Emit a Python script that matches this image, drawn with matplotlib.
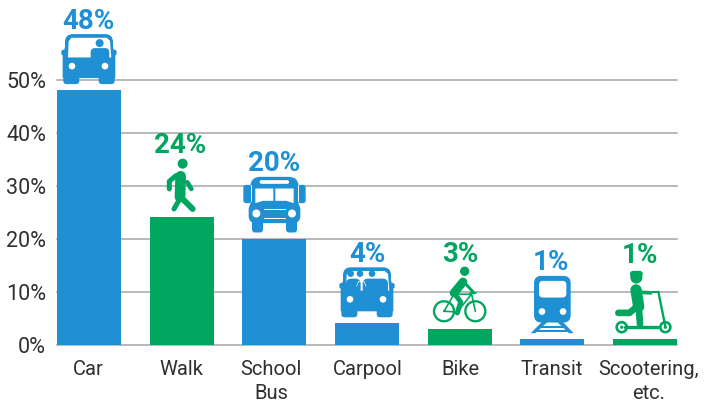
import matplotlib
matplotlib.use("Agg")
import matplotlib.pyplot as plt
from matplotlib.patches import Circle, FancyBboxPatch, Polygon
from matplotlib.lines import Line2D
from matplotlib.transforms import Affine2D

# ---- data
categories = ["Car", "Walk", "School\nBus", "Carpool", "Bike", "Transit", "Scootering,\netc."]
values = [48, 24, 20, 4, 3, 1, 1]
value_labels = ["48%", "24%", "20%", "4%", "3%", "1%", "1%"]
y_ticks = [0, 10, 20, 30, 40, 50]
y_tick_labels = ["0%", "10%", "20%", "30%", "40%", "50%"]

# ---- style
BLUE = "#1f90d3"
GREEN = "#00a65f"
WHITE = "white"
bar_colors = [BLUE, GREEN, BLUE, BLUE, GREEN, BLUE, GREEN]
label_dy = [62, 65, 68, 62, 68, 70, 77]
label_dx = [-1, -1.5, 0, 0, 1, -1, -5]
xlabel_dx = [-1, -0.5, -3.5, 1, 1, -0.5, 3.5]

plt.rcParams["font.family"] = ["Roboto", "DejaVu Sans"]
W, H = 720, 410
fig = plt.figure(figsize=(W / 100, H / 100), dpi=100)
L, R, T, B = 57, 677, 80.5, 345.5
ax = fig.add_axes([L / W, 1 - B / H, (R - L) / W, (B - T) / H])
ax.set_xlim(-0.345, 6.345)
ax.set_ylim(0, 50)
for s in ax.spines.values():
    s.set_visible(False)
ax.set_axisbelow(True)
ax.yaxis.grid(True, color="#a6a6a6", lw=1.1)
ax.xaxis.grid(False)
ax.tick_params(length=0)
ax.set_yticks(y_ticks)
ax.set_yticklabels(y_tick_labels, fontsize=15.5, color="#2f2f2f")
ax.tick_params(axis="y", pad=8)
ax.set_xticks([])
for line in ax.yaxis.get_gridlines():
    line.set_clip_on(False)

ax.bar(range(len(values)), values, width=0.69, color=bar_colors, zorder=2)


def icon_transform(i, ox, oy):
    X, Y = ax.transData.transform((i, values[i]))
    return (Affine2D().translate(-ox, -oy).scale(1 / 3, -1 / 3)
            .translate(X, Y + 6))


def px(pixels):
    return pixels * 72 / 100 / 3  # zoom-unit width to points


class Icon:
    def __init__(self, i, ox, oy, color):
        self.t = icon_transform(i, ox, oy)
        self.c = color

    def add(self, p, c=None):
        p.set_transform(self.t)
        p.set_facecolor(c or self.c)
        p.set_edgecolor("none")
        p.set_clip_on(False)
        p.set_zorder(4)
        fig.add_artist(p)

    def circle(self, x, y, r, c=None):
        self.add(Circle((x, y), r), c)

    def rbox(self, x0, y0, x1, y1, r, c=None):
        self.add(FancyBboxPatch((x0 + r, y0 + r), x1 - x0 - 2 * r, y1 - y0 - 2 * r,
                                boxstyle=f"round,pad={r},rounding_size={r}"), c)

    def poly(self, pts, c=None):
        self.add(Polygon(pts, closed=True), c)

    def line(self, pts, w, c=None, cap="round"):
        l = Line2D([p[0] for p in pts], [p[1] for p in pts], transform=self.t,
                   color=c or self.c, lw=px(w), solid_capstyle=cap,
                   solid_joinstyle="round", clip_on=False, zorder=4)
        fig.add_artist(l)

    def ring(self, x, y, r, w, c=None):
        fig.add_artist(Circle((x, y), r, transform=self.t, facecolor="none",
                              edgecolor=c or self.c, lw=px(w), clip_on=False, zorder=4))


def car(i, passengers):
    # drawn in reference-zoom units around centre x=145, bottom y=258
    k = Icon(i, 145, 258, BLUE)
    k.rbox(62, 155, 86, 172, 6)
    k.rbox(204, 155, 228, 172, 6)
    k.rbox(73, 108, 217, 200, 24)
    k.poly([(80, 125), (210, 125), (224, 170), (224, 240), (66, 240), (66, 170)])
    k.rbox(68, 228, 116, 258, 10)
    k.rbox(174, 228, 222, 258, 10)
    k.poly([(92, 119), (198, 119), (208, 128), (212, 178), (82, 178), (84, 130)], WHITE)
    if passengers:
        for hx in (96, 124, 160):
            k.circle(hx, 127, 10)
        k.rbox(82, 142, 126, 190, 16)
        k.rbox(132, 142, 208, 190, 16)
        k.line([(128, 145), (128, 172)], 3, WHITE)
        k.line([(114, 165), (120, 150), (136, 150), (142, 165)], 2, WHITE)
    else:
        k.circle(177, 135, 12)
        k.rbox(150, 150, 206, 190, 13)
    k.circle(94, 204, 10, WHITE)
    k.circle(193, 204, 10, WHITE)


def walker(i):
    k = Icon(i, 425, 635, GREEN)
    k.circle(428, 492, 15)
    k.line([(422, 530), (420, 592)], 32)
    k.line([(408, 528), (388, 545), (388, 568)], 15)
    k.line([(442, 548), (454, 568)], 14)
    k.line([(420, 590), (458, 628)], 18)
    k.line([(418, 600), (402, 628)], 15)


def bus(i):
    k = Icon(i, 702, 700, BLUE)
    k.rbox(609, 557, 632, 612, 8)
    k.rbox(773, 557, 796, 612, 8)
    k.rbox(630, 533, 775, 650, 30)
    k.line([(633, 558), (633, 606)], 3, WHITE)
    k.line([(772, 558), (772, 606)], 3, WHITE)
    k.rbox(625, 610, 780, 672, 22)
    k.rbox(635, 660, 668, 700, 9)
    k.rbox(737, 660, 770, 700, 9)
    k.rbox(658, 543, 746, 554, 5, WHITE)
    k.poly([(645, 568), (699, 568), (699, 605), (668, 605), (645, 612)], WHITE)
    k.poly([(705, 568), (760, 568), (760, 612), (738, 605), (705, 605)], WHITE)
    k.circle(648, 643, 12, WHITE)
    k.circle(755, 643, 12, WHITE)
    k.line([(670, 630), (733, 630)], 3, WHITE)
    k.line([(670, 655), (733, 655)], 3, WHITE)


def bike(i):
    k = Icon(i, 385, 267, GREEN)
    k.ring(338, 233, 30, 7)
    k.ring(432, 233, 30, 7)
    k.line([(338, 233), (368, 182), (420, 182), (378, 235), (338, 233)], 5)
    k.line([(420, 178), (432, 233)], 5)
    k.line([(415, 178), (435, 178)], 5)
    k.circle(400, 113, 14)
    k.line([(395, 145), (368, 178)], 26)
    k.line([(395, 142), (428, 178)], 9)
    k.line([(368, 178), (388, 205), (378, 238)], 15)


def train(i):
    k = Icon(i, 665, 297, BLUE)
    k.rbox(610, 125, 720, 265, 22)
    k.rbox(625, 140, 707, 190, 12, WHITE)
    k.circle(634, 232, 10, WHITE)
    k.circle(697, 232, 10, WHITE)
    k.poly([(635, 262), (652, 262), (614, 297), (600, 297)])
    k.poly([(678, 262), (695, 262), (729, 297), (715, 297)])
    k.line([(628, 277), (702, 277)], 6)
    k.line([(612, 291), (716, 291)], 6)


def scooter(i):
    k = Icon(i, 945, 295, GREEN)
    k.circle(919, 128, 18)
    k.rbox(900, 108, 938, 128, 9)
    k.line([(918, 165), (926, 215)], 34)
    k.line([(930, 172), (962, 174)], 11)
    k.line([(926, 215), (930, 268)], 20)
    k.line([(925, 212), (898, 234), (865, 234)], 20)
    k.line([(968, 171), (985, 171)], 6)
    k.line([(985, 171), (1006, 275)], 7)
    k.line([(885, 275), (985, 275)], 10)
    k.ring(875, 277, 15, 8)
    k.ring(1006, 277, 15, 8)
    k.circle(875, 277, 5)
    k.circle(1006, 277, 5)


car(0, False)
walker(1)
bus(2)
car(3, True)
bike(4)
train(5)
scooter(6)

for i, (v, lab) in enumerate(zip(values, value_labels)):
    ax.annotate(lab, (i, v), xytext=(label_dx[i] * 0.72, label_dy[i] * 0.72),
                textcoords="offset points", ha="center", va="baseline",
                fontsize=20, fontweight="bold", color=bar_colors[i],
                annotation_clip=False, zorder=5)
    for n, part in enumerate(categories[i].split("\n")):
        ax.annotate(part, (i, 0), xytext=(xlabel_dx[i] * 0.72, (-29.5 - 24 * n) * 0.72),
                    textcoords="offset points", ha="center", va="baseline",
                    fontsize=14.5, color="#2f2f2f", annotation_clip=False)

fig.savefig("out.png", dpi=100)
